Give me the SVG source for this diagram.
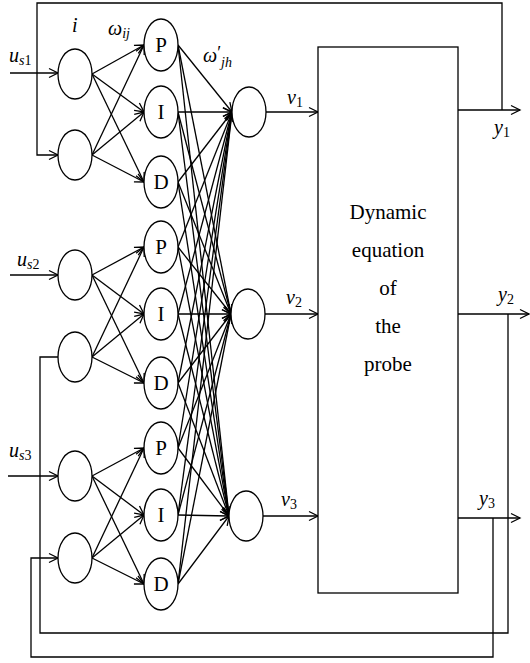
<svg xmlns="http://www.w3.org/2000/svg" width="530" height="663" viewBox="0 0 530 663">
<style>
.n{fill:#fff;stroke:#000;stroke-width:1.3}
.c line,.c path{stroke:#000;stroke-width:1.3;fill:none}
.a{marker-end:url(#ar)}
.t{font-family:"Liberation Serif",serif;font-size:21px;fill:#000}
.m{font-family:"Liberation Serif",serif;font-style:italic;font-size:20px;fill:#000}
.s{font-size:14px}
</style>
<defs>
<marker id="ar" markerUnits="userSpaceOnUse" markerWidth="12" markerHeight="12" refX="9" refY="4.5" orient="auto" overflow="visible">
<path d="M0,0 L9,4.5 L0,9" fill="none" stroke="#000" stroke-width="1.3"/>
</marker>
</defs>
<rect width="530" height="663" fill="#fff"/>
<g id="connectors" class="c">
<line class="a" x1="10" y1="73" x2="58" y2="73"/>
<line class="a" x1="10" y1="275" x2="58" y2="275"/>
<line class="a" x1="8" y1="476" x2="58" y2="476"/>
<path class="a" d="M502,110 V3 H37 V155 H58"/>
<path d="M508,314 V633 H40 V357 H58"/>
<path class="a" d="M493,518 V657 H31 V558 H58"/>
<line class="a" x1="92" y1="74" x2="144" y2="45"/>
<line class="a" x1="92" y1="74" x2="144" y2="112"/>
<line class="a" x1="92" y1="74" x2="144" y2="182"/>
<line class="a" x1="92" y1="155" x2="144" y2="45"/>
<line class="a" x1="92" y1="155" x2="144" y2="112"/>
<line class="a" x1="92" y1="155" x2="144" y2="182"/>
<line class="a" x1="92" y1="275" x2="144" y2="247"/>
<line class="a" x1="92" y1="275" x2="144" y2="314"/>
<line class="a" x1="92" y1="275" x2="144" y2="383"/>
<line class="a" x1="92" y1="357" x2="144" y2="247"/>
<line class="a" x1="92" y1="357" x2="144" y2="314"/>
<line class="a" x1="92" y1="357" x2="144" y2="383"/>
<line class="a" x1="92" y1="476" x2="144" y2="448"/>
<line class="a" x1="92" y1="476" x2="144" y2="515"/>
<line class="a" x1="92" y1="476" x2="144" y2="584"/>
<line class="a" x1="92" y1="558" x2="144" y2="448"/>
<line class="a" x1="92" y1="558" x2="144" y2="515"/>
<line class="a" x1="92" y1="558" x2="144" y2="584"/>
<line class="a" x1="178" y1="45" x2="232" y2="112"/>
<line class="a" x1="178" y1="112" x2="232" y2="112"/>
<line class="a" x1="178" y1="182" x2="232" y2="112"/>
<line class="a" x1="178" y1="247" x2="232" y2="112"/>
<line class="a" x1="178" y1="314" x2="232" y2="112"/>
<line class="a" x1="178" y1="383" x2="232" y2="112"/>
<line class="a" x1="178" y1="448" x2="232" y2="112"/>
<line class="a" x1="178" y1="515" x2="232" y2="112"/>
<line class="a" x1="178" y1="584" x2="232" y2="112"/>
<line class="a" x1="178" y1="45" x2="231" y2="314"/>
<line class="a" x1="178" y1="112" x2="231" y2="314"/>
<line class="a" x1="178" y1="182" x2="231" y2="314"/>
<line class="a" x1="178" y1="247" x2="231" y2="314"/>
<line class="a" x1="178" y1="314" x2="231" y2="314"/>
<line class="a" x1="178" y1="383" x2="231" y2="314"/>
<line class="a" x1="178" y1="448" x2="231" y2="314"/>
<line class="a" x1="178" y1="515" x2="231" y2="314"/>
<line class="a" x1="178" y1="584" x2="231" y2="314"/>
<line class="a" x1="178" y1="45" x2="229" y2="516"/>
<line class="a" x1="178" y1="112" x2="229" y2="516"/>
<line class="a" x1="178" y1="182" x2="229" y2="516"/>
<line class="a" x1="178" y1="247" x2="229" y2="516"/>
<line class="a" x1="178" y1="314" x2="229" y2="516"/>
<line class="a" x1="178" y1="383" x2="229" y2="516"/>
<line class="a" x1="178" y1="448" x2="229" y2="516"/>
<line class="a" x1="178" y1="515" x2="229" y2="516"/>
<line class="a" x1="178" y1="584" x2="229" y2="516"/>
<line class="a" x1="266" y1="112" x2="318" y2="112"/>
<line class="a" x1="265" y1="314" x2="318" y2="314"/>
<line class="a" x1="263" y1="516" x2="318" y2="516"/>
<line class="a" x1="458" y1="110" x2="520" y2="110"/>
<line class="a" x1="458" y1="314" x2="529" y2="314"/>
<line class="a" x1="458" y1="518" x2="520" y2="518"/>
</g>
<g id="input1"><ellipse class="n" cx="75" cy="74" rx="17" ry="25"/></g>
<g id="input2"><ellipse class="n" cx="75" cy="155" rx="17" ry="25"/></g>
<g id="input3"><ellipse class="n" cx="75" cy="275" rx="17" ry="25"/></g>
<g id="input4"><ellipse class="n" cx="75" cy="357" rx="17" ry="25"/></g>
<g id="input5"><ellipse class="n" cx="75" cy="476" rx="17" ry="25"/></g>
<g id="input6"><ellipse class="n" cx="75" cy="558" rx="17" ry="25"/></g>
<g id="P1"><ellipse class="n" cx="161" cy="45" rx="17" ry="26"/><text class="t" x="161" y="52" text-anchor="middle">P</text></g>
<g id="I1"><ellipse class="n" cx="161" cy="112" rx="17" ry="26"/><text class="t" x="161" y="119" text-anchor="middle">I</text></g>
<g id="D1"><ellipse class="n" cx="161" cy="182" rx="17" ry="26"/><text class="t" x="161" y="189" text-anchor="middle">D</text></g>
<g id="P2"><ellipse class="n" cx="161" cy="247" rx="17" ry="26"/><text class="t" x="161" y="254" text-anchor="middle">P</text></g>
<g id="I2"><ellipse class="n" cx="161" cy="314" rx="17" ry="26"/><text class="t" x="161" y="321" text-anchor="middle">I</text></g>
<g id="D2"><ellipse class="n" cx="161" cy="383" rx="17" ry="26"/><text class="t" x="161" y="390" text-anchor="middle">D</text></g>
<g id="P3"><ellipse class="n" cx="161" cy="448" rx="17" ry="26"/><text class="t" x="161" y="455" text-anchor="middle">P</text></g>
<g id="I3"><ellipse class="n" cx="161" cy="515" rx="17" ry="26"/><text class="t" x="161" y="522" text-anchor="middle">I</text></g>
<g id="D3"><ellipse class="n" cx="161" cy="584" rx="17" ry="26"/><text class="t" x="161" y="591" text-anchor="middle">D</text></g>
<g id="out1"><ellipse class="n" cx="249" cy="112" rx="17" ry="25"/></g>
<g id="out2"><ellipse class="n" cx="248" cy="314" rx="17" ry="25"/></g>
<g id="out3"><ellipse class="n" cx="246" cy="516" rx="17" ry="25"/></g>
<g id="probe">
<rect class="n" x="318" y="47" width="140" height="546"/>
<text class="t" text-anchor="middle"><tspan x="388" y="219">Dynamic</tspan><tspan x="388" y="257">equation</tspan><tspan x="388" y="295">of</tspan><tspan x="388" y="333">the</tspan><tspan x="388" y="371">probe</tspan></text>
</g>
<g id="labels">
<text class="m" x="9" y="62">u<tspan class="s" dy="3">s</tspan><tspan class="s" font-style="normal">1</tspan></text>
<text class="m" x="17" y="266">u<tspan class="s" dy="3">s</tspan><tspan class="s" font-style="normal">2</tspan></text>
<text class="m" x="9" y="457">u<tspan class="s" dy="3">s</tspan><tspan class="s" font-style="normal">3</tspan></text>
<text class="m" x="72" y="32">i</text>
<text class="m" x="108" y="35">ω<tspan class="s" dy="3">ij</tspan></text>
<text class="m" x="203" y="62">ω<tspan font-size="18" dy="-3" font-style="normal">′</tspan><tspan class="s" dy="8">jh</tspan></text>
<text class="m" x="287" y="104">v<tspan class="s" dy="3" font-style="normal">1</tspan></text>
<text class="m" x="286" y="304">v<tspan class="s" dy="3" font-style="normal">2</tspan></text>
<text class="m" x="281" y="506">v<tspan class="s" dy="3" font-style="normal">3</tspan></text>
<text class="m" x="494" y="134">y<tspan class="s" dy="3" font-style="normal">1</tspan></text>
<text class="m" x="498" y="301">y<tspan class="s" dy="3" font-style="normal">2</tspan></text>
<text class="m" x="479" y="505">y<tspan class="s" dy="3" font-style="normal">3</tspan></text>
</g>
</svg>
